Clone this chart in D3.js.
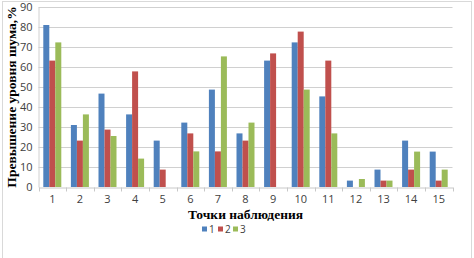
<!DOCTYPE html>
<html><head><meta charset="utf-8">
<script src="https://cdn.jsdelivr.net/npm/d3@7"></script>
<style>body{margin:0;background:#fff}svg{display:block}</style>
</head><body>
<script>
const categories = ["1","2","3","4","5","6","7","8","9","10","11","12","13","14","15"];
const seriesNames = ["1","2","3"];
const series1 = [81, 31, 46.7, 36.3, 23.2, 32.2, 48.7, 26.8, 63.2, 72.3, 45.3, 3.2, 8.7, 23.2, 17.7];
const series2 = [63.2, 23.2, 28.7, 57.8, 8.7, 26.8, 17.8, 23.2, 66.8, 77.7, 63.2, 0, 3.2, 8.7, 3.2];
const series3 = [72.3, 36.3, 25.5, 14.2, 0, 17.8, 65.3, 32.2, 0, 48.7, 26.8, 4, 3.2, 17.7, 8.7];
const yTicks = [0,10,20,30,40,50,60,70,80,90];
const colors = ["#4F81BD","#C0504D","#9BBB59"];
const allSeries = [series1, series2, series3];

const W = 474, H = 258;
const m = {left: 38.5, right: 452.5, top: 7, bottom: 187};
const svg = d3.select("body").append("svg").attr("width", W).attr("height", H);

svg.append("rect").attr("x",2.5).attr("y",1.5).attr("width",469).attr("height",257)
  .attr("fill","#fff").attr("stroke","#d9d9d9");

const x = d3.scaleBand().domain(categories).range([m.left, m.right]).paddingInner(0).paddingOuter(0);
const xs = d3.scaleBand().domain(seriesNames).range([0, 18]);
const y = d3.scaleLinear().domain([0, 90]).range([m.bottom, m.top]);

// gridlines
svg.append("g").selectAll("line").data(yTicks.filter(d=>d>0)).join("line")
  .attr("x1", m.left).attr("x2", m.right)
  .attr("y1", d=>Math.round(y(d))+0.5).attr("y2", d=>Math.round(y(d))+0.5)
  .attr("stroke","#d0d0d0").attr("stroke-width",1);

// y axis
const yAxis = svg.append("g").attr("transform",`translate(${m.left},0)`)
  .call(d3.axisLeft(y).tickValues(yTicks).tickSize(0).tickPadding(6));
yAxis.select(".domain").attr("stroke","#d0d0d0");
yAxis.selectAll("text").attr("font-family","'Open Sans', sans-serif").attr("font-size","11px").attr("fill","#404040");

// bars
const off = (x.bandwidth() - 18)/2;
allSeries.forEach((s,i)=>{
  svg.append("g").selectAll("rect").data(s).join("rect")
    .attr("x",(d,j)=>x(categories[j]) + off + xs(seriesNames[i]))
    .attr("width", xs.bandwidth())
    .attr("y", d=>y(d)).attr("height", d=>y(0)-y(d))
    .attr("fill", colors[i]);
});

// x axis
const xAxis = svg.append("g").attr("transform",`translate(0,${m.bottom+0.5})`)
  .call(d3.axisBottom(x).tickSize(0).tickPadding(8));
xAxis.select(".domain").attr("stroke","#c8c8c8");
xAxis.selectAll("text").attr("font-family","'Open Sans', sans-serif").attr("font-size","11px").attr("fill","#404040");
// tick marks between categories
const bounds = categories.map(c=>x(c)).concat([m.right]);
xAxis.append("g").selectAll("line").data(bounds).join("line")
  .attr("x1",d=>Math.round(d)+0.5).attr("x2",d=>Math.round(d)+0.5)
  .attr("y1",0).attr("y2",4).attr("stroke","#c8c8c8");

// axis titles
svg.append("text").attr("transform",`translate(16,${(m.top+m.bottom)/2}) rotate(-90)`)
  .attr("text-anchor","middle").attr("font-family","'Liberation Serif', serif")
  .attr("font-weight","bold").attr("font-size","13.5px").attr("fill","#000")
  .text("Превышение уровня шума,%");
svg.append("text").attr("x",(m.left+m.right)/2).attr("y",219)
  .attr("text-anchor","middle").attr("font-family","'Liberation Serif', serif")
  .attr("font-weight","bold").attr("font-size","13.5px").attr("fill","#000")
  .text("Точки наблюдения");

// legend
const lg = svg.append("g");
const lx = [202, 218, 233];
seriesNames.forEach((n,i)=>{
  lg.append("rect").attr("x",lx[i]).attr("y",226.5).attr("width",5).attr("height",5).attr("fill",colors[i]);
  lg.append("text").attr("x",lx[i]+7).attr("y",232.5).attr("font-family","'Open Sans', sans-serif")
    .attr("font-size","10px").attr("fill","#404040").text(n);
});
</script>
</body></html>
